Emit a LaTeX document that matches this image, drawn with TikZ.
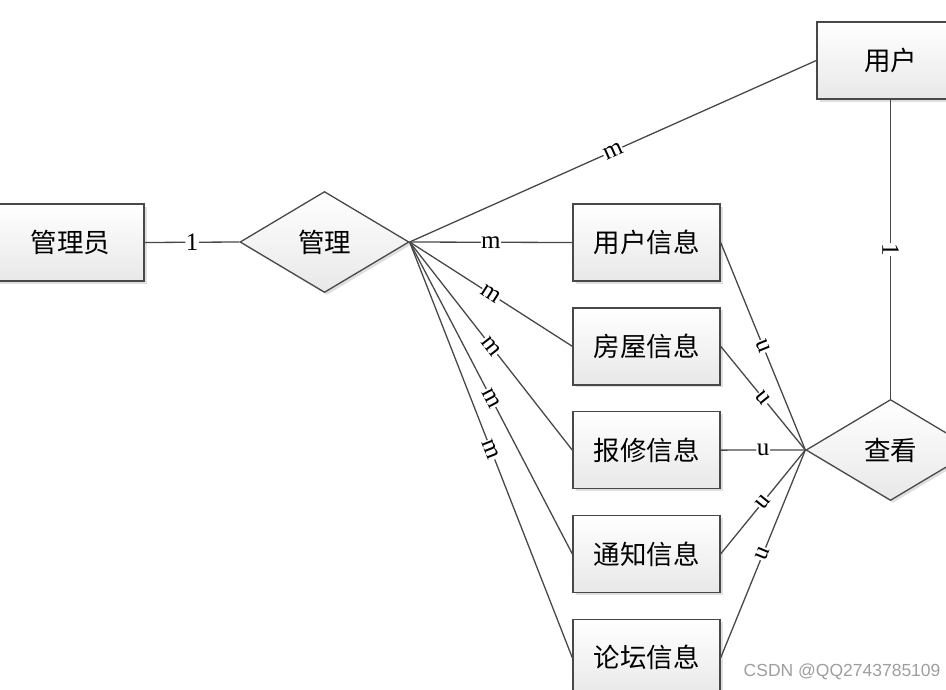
\documentclass[tikz,border=0pt]{standalone}
\usepackage{fontspec}
\setmainfont{Liberation Serif}
\newfontfamily\cjk{Noto Sans CJK SC}
\newfontfamily\marksans{Liberation Sans}
\usepackage{tikz}
\usetikzlibrary{positioning,shapes.geometric,shadows}

\definecolor{edge}{RGB}{72,72,72}

\begin{document}
\begin{tikzpicture}[x=1pt, y=-1pt,
  entity/.style={draw=edge, line width=1.4pt, top color=white, bottom color=black!9, minimum width=147pt, minimum height=77pt, inner sep=0pt, font=\cjk\fontsize{26.5}{28}\selectfont, drop shadow={shadow xshift=2.5pt, shadow yshift=-2.5pt, fill=black!25, opacity=0.5}},
  relation/.style={diamond, draw=edge, line width=1.3pt, top color=white, bottom color=black!9, minimum width=169pt, minimum height=101pt, inner sep=0pt, font=\cjk\fontsize{26.5}{28}\selectfont, drop shadow={shadow xshift=2.5pt, shadow yshift=-2.5pt, fill=black!25, opacity=0.5}},
  link/.style={draw=edge, line width=1.3pt},
  card/.style={sloped, fill=white, inner sep=0.5pt, font=\fontsize{25}{26}\selectfont}
]
  \path[use as bounding box, clip] (0,0) rectangle (946,689);

  \node[entity] (admin) at (70.5,242.5) {管理员};
  \node[relation] (manage) at (324.5,242) {管理};
  \node[entity] (userinfo) at (646.5,242.5) {用户信息};
  \node[entity, below=25.4pt of userinfo] (house) {房屋信息};
  \node[entity, below=25.4pt of house] (repair) {报修信息};
  \node[entity, below=25.4pt of repair] (notice) {通知信息};
  \node[entity, below=25.4pt of notice] (forum) {论坛信息};
  \node[entity] (user) at (890.5,60.5) {用户};
  \node[relation] (view) at (890.5,450) {查看};

  \draw[link] (admin.east) -- node[card] {1} (manage.west);
  \draw[link] (manage.east) -- node[card] {m} (user.west);
  \draw[link] (manage.east) -- node[card] {m} (userinfo.west);
  \draw[link] (manage.east) -- node[card] {m} (house.west);
  \draw[link] (manage.east) -- node[card] {m} (repair.west);
  \draw[link] (manage.east) -- node[card] {m} (notice.west);
  \draw[link] (manage.east) -- node[card] {m} (forum.west);

  \draw[link] (userinfo.east) -- node[card] {u} (view.west);
  \draw[link] (house.east) -- node[card] {u} (view.west);
  \draw[link] (repair.east) -- node[card] {u} (view.west);
  \draw[link] (notice.east) -- node[card] {u} (view.west);
  \draw[link] (forum.east) -- node[card] {u} (view.west);
  \draw[link] (user.south) -- node[card] {1} (view.north);

  \node[anchor=east, text=black!38, font=\marksans\fontsize{17.5}{18}\selectfont] (mark) at (944,672) {CSDN @QQ2743785109};
\end{tikzpicture}
\end{document}
